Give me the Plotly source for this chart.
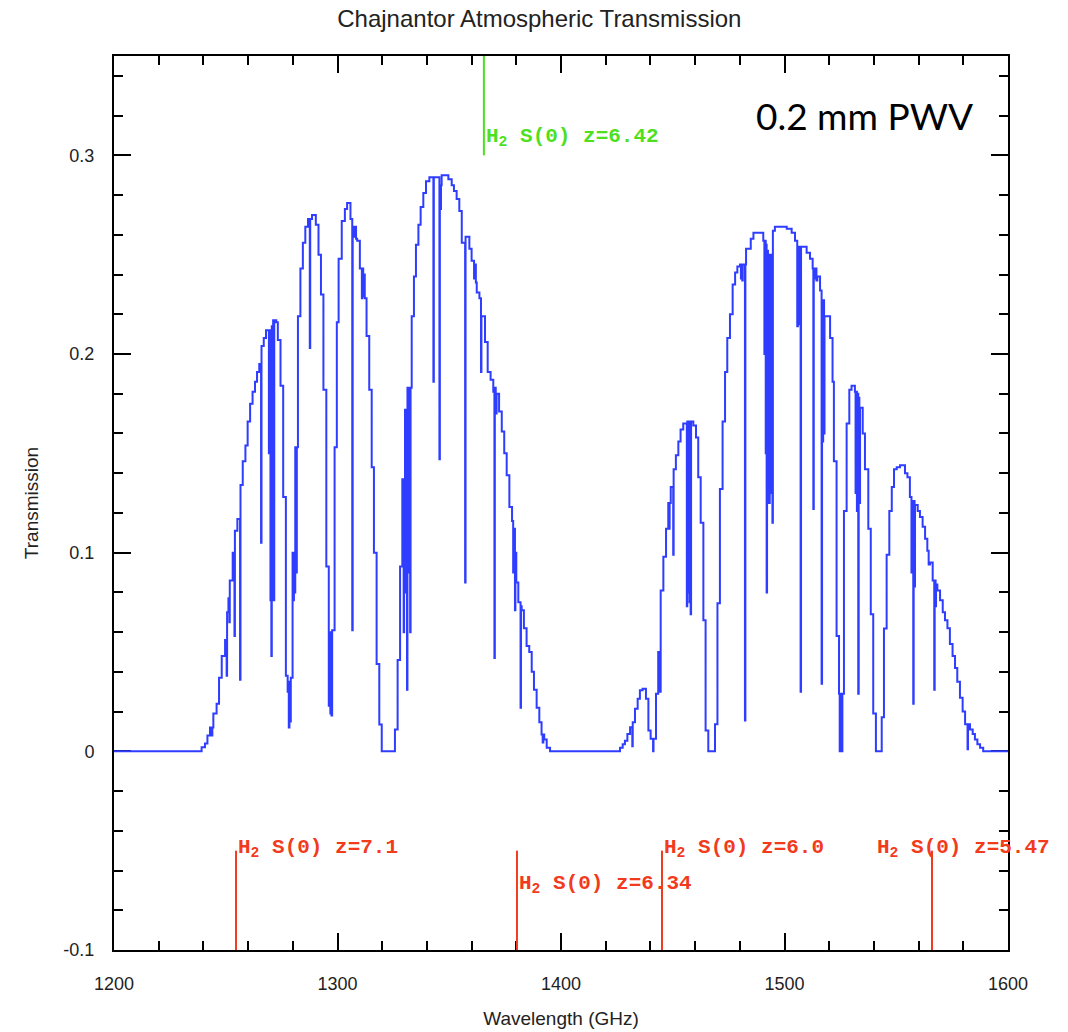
import plotly.graph_objects as go

# ---------------- data ----------------
# Step-wise atmospheric transmission (value holds from each frequency to the next)
freq_ghz = [
    1200.0, 1239.2, 1240.7, 1241.8, 1242.95, 1243.8, 1244.0, 1244.45, 1245.9, 1247.0,
    1248.2, 1249.7, 1250.4, 1250.6, 1251.2, 1251.6, 1251.8, 1253.1, 1253.9, 1254.1,
    1255.2, 1256.4, 1256.6, 1257.6, 1258.8, 1259.8, 1260.9, 1262.0, 1263.1, 1264.0,
    1265.0, 1265.8, 1266.0, 1267.0, 1268.0, 1269.3, 1269.5, 1270.0, 1270.2, 1270.4,
    1270.6, 1271.0, 1271.2, 1271.5, 1271.7, 1272.6, 1273.3, 1274.5, 1275.7, 1276.9,
    1277.7, 1278.2, 1278.5, 1278.8, 1279.1, 1279.9, 1280.3, 1280.5, 1280.9, 1281.1,
    1281.6, 1281.8, 1282.3, 1283.4, 1284.5, 1285.6, 1286.8, 1287.6, 1287.8, 1288.6,
    1290.3, 1291.5, 1292.6, 1293.7, 1295.0, 1296.1, 1296.6, 1296.8, 1297.1, 1297.3,
    1297.6, 1298.7, 1299.7, 1300.5, 1301.9, 1303.3, 1304.3, 1305.8, 1306.6, 1306.8,
    1307.5, 1307.7, 1308.3, 1308.8, 1310.0, 1310.9, 1311.1, 1311.5, 1311.7, 1312.2,
    1313.0, 1314.2, 1315.3, 1316.3, 1317.5, 1318.7, 1319.8, 1325.7, 1326.9, 1328.0,
    1329.0, 1329.6, 1329.8, 1330.2, 1330.5, 1330.7, 1331.1, 1331.3, 1331.8, 1332.0,
    1332.5, 1332.7, 1333.2, 1334.2, 1335.1, 1336.2, 1337.2, 1338.4, 1339.6, 1341.1,
    1342.9, 1343.1, 1344.7, 1345.6, 1345.8, 1346.0, 1346.3, 1346.6, 1349.6, 1351.1,
    1352.1, 1353.3, 1354.5, 1355.6, 1357.1, 1357.3, 1359.0, 1360.0, 1361.1, 1361.5,
    1361.9, 1362.3, 1363.5, 1364.2, 1364.4, 1366.0, 1367.2, 1368.5, 1369.7, 1370.2,
    1370.4, 1370.8, 1371.2, 1372.3, 1373.5, 1374.6, 1375.7, 1376.9, 1378.1, 1378.6,
    1378.9, 1379.4, 1379.6, 1380.0, 1380.9, 1381.9, 1382.1, 1382.4, 1383.4, 1384.6,
    1385.8, 1386.9, 1387.9, 1389.1, 1390.3, 1391.3, 1391.8, 1392.1, 1392.5, 1393.6,
    1395.1, 1426.4, 1427.6, 1428.6, 1429.7, 1430.9, 1431.9, 1432.1, 1433.1, 1434.3,
    1435.3, 1436.5, 1438.0, 1439.1, 1440.1, 1441.2, 1441.4, 1442.5, 1443.5, 1443.9,
    1444.1, 1444.3, 1444.6, 1445.8, 1447.0, 1448.0, 1448.4, 1448.6, 1449.1, 1450.2,
    1450.4, 1451.4, 1452.5, 1453.5, 1454.7, 1455.8, 1456.3, 1456.5, 1456.9, 1457.1,
    1457.5, 1457.7, 1458.0, 1458.2, 1459.2, 1460.4, 1461.4, 1462.5, 1463.7, 1464.7,
    1465.9, 1468.9, 1470.0, 1471.1, 1472.3, 1473.4, 1474.4, 1475.6, 1476.8, 1477.9,
    1478.9, 1480.1, 1480.5, 1480.7, 1481.1, 1481.3, 1482.3, 1482.5, 1482.8, 1484.9,
    1486.1, 1490.2, 1490.5, 1491.0, 1491.2, 1491.6, 1491.8, 1492.0, 1492.2, 1492.6,
    1492.8, 1493.2, 1493.4, 1493.8, 1494.0, 1494.6, 1494.8, 1495.7, 1501.0, 1503.2,
    1504.7, 1505.7, 1506.0, 1506.4, 1506.6, 1507.2, 1507.4, 1509.9, 1511.4, 1512.6,
    1512.9, 1513.1, 1513.6, 1513.9, 1514.3, 1514.7, 1515.9, 1516.6, 1516.8, 1517.1,
    1517.3, 1517.7, 1517.9, 1520.4, 1521.5, 1522.1, 1523.3, 1524.4, 1524.7, 1524.9,
    1525.2, 1525.4, 1525.7, 1525.9, 1526.6, 1527.8, 1529.0, 1530.0, 1531.5, 1531.8,
    1532.0, 1532.4, 1532.6, 1533.0, 1533.2, 1533.5, 1533.8, 1535.0, 1536.0, 1537.5,
    1538.6, 1539.7, 1540.9, 1543.5, 1544.5, 1545.7, 1546.9, 1548.0, 1549.0, 1550.2,
    1551.7, 1553.9, 1555.0, 1556.1, 1556.8, 1557.0, 1557.6, 1557.8, 1558.2, 1558.4,
    1559.6, 1560.6, 1561.8, 1562.9, 1563.9, 1564.5, 1565.1, 1566.3, 1567.0, 1567.2,
    1567.6, 1567.8, 1568.4, 1569.6, 1570.8, 1571.8, 1572.9, 1574.0, 1575.2, 1576.3,
    1577.3, 1578.5, 1579.7, 1580.8, 1581.9, 1582.1, 1583.0, 1584.2, 1585.2, 1586.3,
    1587.5, 1588.9, 1600.0,
]
transmission = [
    0.0, 0.002, 0.004, 0.008, 0.012, 0.008, 0.012, 0.019, 0.024, 0.037,
    0.048, 0.056, 0.038, 0.070, 0.077, 0.065, 0.086, 0.100, 0.058, 0.111,
    0.117, 0.036, 0.134, 0.146, 0.154, 0.166, 0.175, 0.181, 0.186, 0.191,
    0.195, 0.105, 0.204, 0.208, 0.212, 0.150, 0.212, 0.076, 0.212, 0.048,
    0.214, 0.090, 0.217, 0.076, 0.217, 0.216, 0.207, 0.184, 0.128, 0.038,
    0.030, 0.012, 0.035, 0.015, 0.037, 0.100, 0.076, 0.100, 0.080, 0.153,
    0.090, 0.153, 0.219, 0.243, 0.256, 0.264, 0.268, 0.203, 0.268, 0.270,
    0.265, 0.250, 0.230, 0.182, 0.093, 0.023, 0.060, 0.019, 0.055, 0.018,
    0.061, 0.153, 0.216, 0.248, 0.267, 0.273, 0.276, 0.268, 0.061, 0.264,
    0.259, 0.264, 0.258, 0.257, 0.243, 0.228, 0.243, 0.229, 0.240, 0.228,
    0.209, 0.182, 0.143, 0.100, 0.044, 0.0135, 0.0, 0.011, 0.046, 0.093,
    0.137, 0.060, 0.137, 0.172, 0.080, 0.172, 0.031, 0.183, 0.090, 0.183,
    0.060, 0.183, 0.219, 0.239, 0.255, 0.265, 0.274, 0.281, 0.287, 0.289,
    0.186, 0.289, 0.289, 0.147, 0.280, 0.273, 0.285, 0.290, 0.288, 0.285,
    0.282, 0.278, 0.272, 0.256, 0.085, 0.259, 0.253, 0.247, 0.238, 0.245,
    0.236, 0.231, 0.228, 0.191, 0.219, 0.206, 0.191, 0.187, 0.181, 0.047,
    0.183, 0.170, 0.180, 0.171, 0.161, 0.150, 0.139, 0.123, 0.116, 0.090,
    0.112, 0.071, 0.100, 0.085, 0.075, 0.022, 0.073, 0.071, 0.062, 0.053,
    0.050, 0.040, 0.031, 0.022, 0.0146, 0.0085, 0.0045, 0.0085, 0.006, 0.0018,
    0.0, 0.0018, 0.0036, 0.0053, 0.0087, 0.0121, 0.0025, 0.0146, 0.0214, 0.0265,
    0.0307, 0.0315, 0.0265, 0.0105, 0.0063, 0.0, 0.0063, 0.0290, 0.0500, 0.030,
    0.045, 0.030, 0.081, 0.098, 0.112, 0.125, 0.112, 0.125, 0.133, 0.099,
    0.142, 0.149, 0.156, 0.162, 0.165, 0.165, 0.073, 0.166, 0.080, 0.166,
    0.075, 0.166, 0.069, 0.166, 0.164, 0.158, 0.138, 0.115, 0.066, 0.0105,
    0.0, 0.0136, 0.0745, 0.132, 0.166, 0.191, 0.208, 0.220, 0.235, 0.241,
    0.244, 0.245, 0.238, 0.245, 0.237, 0.245, 0.0155, 0.245, 0.253, 0.258,
    0.261, 0.261, 0.257, 0.200, 0.257, 0.150, 0.255, 0.080, 0.252, 0.125,
    0.250, 0.125, 0.250, 0.130, 0.250, 0.115, 0.262, 0.264, 0.263, 0.261,
    0.257, 0.214, 0.254, 0.215, 0.254, 0.030, 0.254, 0.251, 0.248, 0.243,
    0.122, 0.243, 0.238, 0.243, 0.237, 0.239, 0.232, 0.034, 0.227, 0.156,
    0.227, 0.160, 0.219, 0.208, 0.186, 0.146, 0.058, 0.029, 0.0, 0.029,
    0.0, 0.029, 0.0, 0.029, 0.121, 0.165, 0.182, 0.184, 0.181, 0.130,
    0.181, 0.121, 0.180, 0.029, 0.178, 0.125, 0.173, 0.160, 0.142, 0.112,
    0.069, 0.019, 0.0, 0.0172, 0.0618, 0.099, 0.121, 0.133, 0.142, 0.143,
    0.144, 0.140, 0.138, 0.128, 0.090, 0.126, 0.024, 0.126, 0.083, 0.124,
    0.121, 0.118, 0.113, 0.107, 0.101, 0.094, 0.095, 0.086, 0.031, 0.086,
    0.073, 0.084, 0.081, 0.076, 0.070, 0.066, 0.062, 0.054, 0.048, 0.042,
    0.035, 0.027, 0.020, 0.0136, 0.001, 0.0136, 0.011, 0.0087, 0.0059, 0.0036,
    0.0018, 0.0, 0.0,
]

# Redshifted H2 S(0) line markers
red_line_freq = [1254.6, 1380.3, 1445.2, 1566.0]
red_line_z = ["7.1", "6.34", "6.0", "5.47"]
red_label_x = [1254.6, 1380.3, 1445.2, 1540.5]
red_label_y = [-0.049, -0.067, -0.049, -0.049]
green_line_freq = [1365.5]
green_line_z = ["6.42"]
green_label_y = [0.309]

x_ticks = [1200, 1300, 1400, 1500, 1600]
y_ticks = [-0.1, 0, 0.1, 0.2, 0.3]
y_ticklabels = ["-0.1", "0", "0.1", "0.2", "0.3"]

RED = "#f23b1c"
GREEN = "#4ee01e"
BLUE = "#2e3dff"
LABEL_FONT = "Liberation Mono, DejaVu Sans Mono, monospace"
AXIS_FONT = "Liberation Sans Narrow, Liberation Sans, Arial, sans-serif"

fig = go.Figure()

fig.add_trace(go.Scatter(
    x=freq_ghz, y=transmission, mode="lines",
    line=dict(color=BLUE, width=2, shape="hv"),
    showlegend=False, hoverinfo="x+y", cliponaxis=False,
))

# marker stubs
for f in red_line_freq:
    fig.add_trace(go.Scatter(x=[f, f], y=[-0.1, -0.05], mode="lines",
                             line=dict(color=RED, width=2), showlegend=False,
                             hoverinfo="skip"))
for f in green_line_freq:
    fig.add_trace(go.Scatter(x=[f, f], y=[0.35, 0.30], mode="lines",
                             line=dict(color=GREEN, width=2), showlegend=False,
                             hoverinfo="skip"))

for xl, yl, z in zip(red_label_x, red_label_y, red_line_z):
    fig.add_annotation(x=xl, y=yl, xref="x", yref="y", xanchor="left", yanchor="middle",
                       text=f"<b>H<sub>2</sub> S(0) z={z}</b>", showarrow=False,
                       font=dict(family=LABEL_FONT, size=21, color=RED))
for f, yl, z in zip(green_line_freq, green_label_y, green_line_z):
    fig.add_annotation(x=f, y=yl, xref="x", yref="y", xanchor="left", yanchor="middle",
                       text=f"<b>H<sub>2</sub> S(0) z={z}</b>", showarrow=False,
                       font=dict(family=LABEL_FONT, size=21, color=GREEN))

fig.add_annotation(x=1536, y=0.320, xref="x", yref="y", xanchor="center", yanchor="middle",
                   text="0.2 mm PWV", showarrow=False,
                   font=dict(family="Lato, Open Sans, sans-serif", size=37, color="black"))

fig.update_layout(
    width=1068, height=1032,
    margin=dict(l=114, r=60, t=56, b=82, autoexpand=False),
    paper_bgcolor="white", plot_bgcolor="white",
    title=dict(text="Chajnantor Atmospheric Transmission", x=0.505, xanchor="center",
               y=0.982, yanchor="middle",
               font=dict(family=AXIS_FONT, size=24, color="#222")),
    font=dict(family=AXIS_FONT, size=18, color="#222"),
)
fig.update_xaxes(
    range=[1200, 1600], tickvals=x_ticks, ticktext=[str(v) for v in x_ticks],
    ticks="inside", ticklen=17, tickwidth=2, tickcolor="black",
    minor=dict(dtick=20, ticks="inside", ticklen=9, tickwidth=2, tickcolor="black"),
    showline=True, linecolor="black", linewidth=2, mirror="allticks",
    showgrid=False, zeroline=False, ticklabelstandoff=16, automargin=False,
    layer="below traces",
    title=dict(text="Wavelength (GHz)", standoff=19, font=dict(size=19)),
)
fig.update_yaxes(
    range=[-0.1, 0.35], tickvals=y_ticks, ticktext=y_ticklabels,
    ticks="inside", ticklen=17, tickwidth=2, tickcolor="black",
    minor=dict(dtick=0.02, tick0=0, ticks="inside", ticklen=9, tickwidth=2, tickcolor="black"),
    showline=True, linecolor="black", linewidth=2, mirror="allticks",
    showgrid=False, zeroline=False, ticklabelstandoff=14, automargin=False,
    layer="below traces",
    title=dict(text="Transmission", standoff=20, font=dict(size=19)),
)

fig.write_html("out.html")
